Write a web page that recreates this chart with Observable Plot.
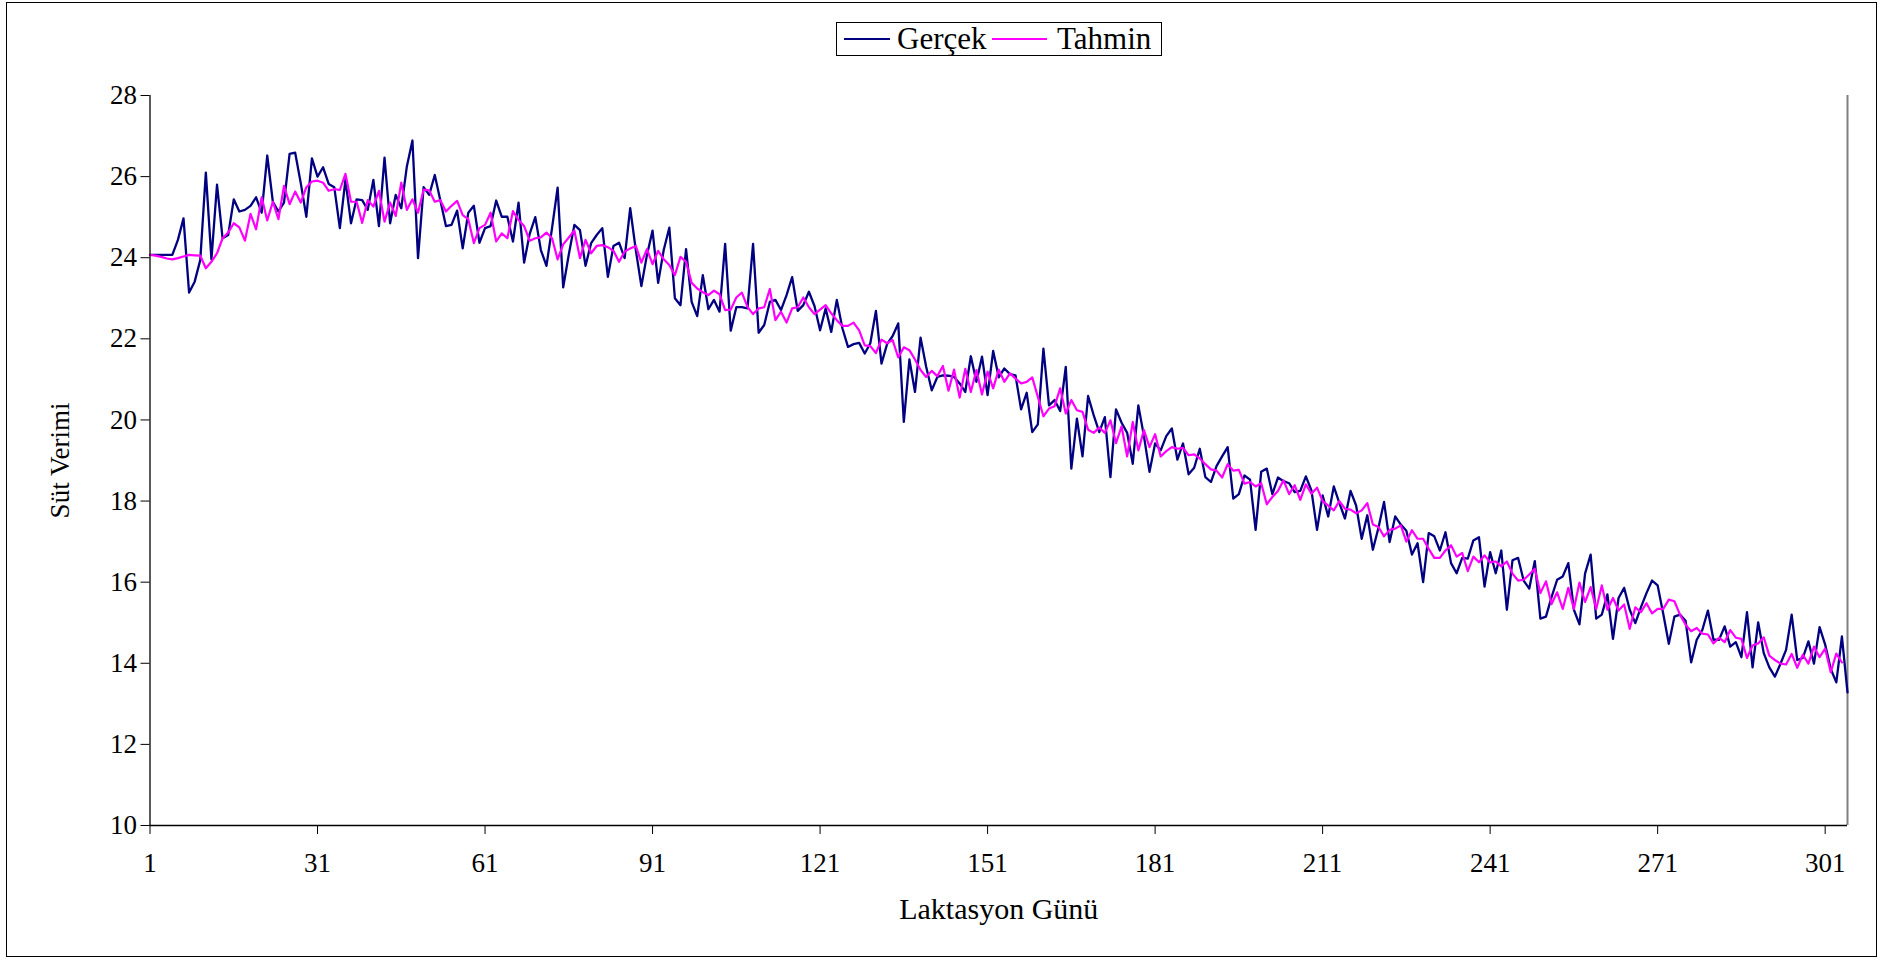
<!DOCTYPE html>
<html><head><meta charset="utf-8">
<script src="https://cdn.jsdelivr.net/npm/d3@7"></script>
<script src="https://cdn.jsdelivr.net/npm/@observablehq/plot@0.6"></script>
<style>
html,body{margin:0;padding:0;background:#fff;overflow:hidden;}
#wrap{position:relative;width:1883px;height:960px;font-family:"Liberation Serif","Times New Roman",serif;}
#frame{position:absolute;left:6px;top:2px;width:1871px;height:955px;border:1.5px solid #000;box-sizing:border-box;pointer-events:none;}
#legend{position:absolute;left:836px;top:22px;width:326px;height:34px;border:1.5px solid #000;box-sizing:border-box;font-family:"Liberation Serif","Times New Roman",serif;font-size:31px;color:#000;background:#fff;}
#legend .sw{position:absolute;top:15px;height:0;border-top:2.3px solid;}
#legend .t{position:absolute;top:-1px;line-height:33px;white-space:nowrap;}
#chart svg{display:block;}
</style>
</head><body>
<div id="wrap">
  <div id="chart"></div>
  <div id="frame"></div>
  <div id="legend">
    <span class="sw" style="border-color:#000080;left:7px;width:46px"></span><span class="t" id="lg0" style="left:60px"></span>
    <span class="sw" style="border-color:#FF00FF;left:155px;width:55px"></span><span class="t" id="lg1" style="left:220px"></span>
  </div>
</div>
<script>
// Series names / labels
const seriesNames = ["Gerçek", "Tahmin"];
const xLabel = "Laktasyon Günü";
const yLabel = "Süt Verimi";
const xTicks = [1, 31, 61, 91, 121, 151, 181, 211, 241, 271, 301];
const yTicks = [10, 12, 14, 16, 18, 20, 22, 24, 26, 28];

// Gerçek (actual), days 1..305
const gercek = [
24.07,24.07,24.07,24.07,24.07,24.44,24.97,23.14,23.41,23.94,
26.10,23.96,25.80,24.48,24.56,25.44,25.14,25.18,25.28,25.49,
25.11,26.52,25.38,25.14,25.36,26.56,26.59,25.84,25.01,26.45,
26.00,26.23,25.82,25.74,24.73,25.92,24.85,25.44,25.42,25.18,
25.92,24.78,26.47,24.85,25.55,25.22,26.25,26.89,23.99,25.74,
25.55,26.04,25.41,24.78,24.81,25.16,24.23,25.11,25.28,24.37,
24.73,24.78,25.41,25.01,25.01,24.40,25.36,23.88,24.59,25.00,
24.19,23.80,24.73,25.73,23.27,24.08,24.81,24.68,23.80,24.36,
24.56,24.73,23.53,24.29,24.37,23.99,25.22,24.19,23.30,24.07,
24.67,23.38,24.19,24.74,23.00,22.83,24.21,22.91,22.56,23.57,
22.73,22.96,22.67,24.34,22.20,22.78,22.78,22.75,24.34,22.15,
22.34,22.91,22.96,22.71,23.08,23.52,22.69,22.83,23.16,22.81,
22.21,22.75,22.17,22.96,22.26,21.80,21.87,21.90,21.64,21.89,
22.69,21.39,21.87,22.07,22.38,19.95,21.49,20.69,22.03,21.31,
20.73,21.06,21.10,21.09,21.06,20.90,20.69,21.57,20.94,21.56,
20.61,21.70,21.05,21.27,21.13,21.10,20.26,20.67,19.70,19.89,
21.76,20.36,20.49,20.22,21.31,18.80,20.03,19.10,20.59,20.12,
19.70,20.07,18.59,20.26,19.93,19.68,18.92,20.36,19.60,18.72,
19.42,19.25,19.60,19.79,19.02,19.42,18.66,18.82,19.29,18.59,
18.47,18.86,19.10,19.33,18.06,18.17,18.63,18.53,17.29,18.72,
18.80,18.17,18.58,18.49,18.44,18.22,18.25,18.61,18.26,17.29,
18.14,17.62,18.36,17.95,17.57,18.25,17.89,17.07,17.65,16.80,
17.34,17.98,16.99,17.62,17.42,17.27,16.68,16.96,16.00,17.21,
17.13,16.78,17.23,16.47,16.22,16.60,16.58,17.03,17.11,15.89,
16.74,16.22,16.78,15.32,16.54,16.60,16.04,15.84,16.52,15.10,
15.15,15.63,16.06,16.14,16.47,15.32,14.96,16.21,16.68,15.10,
15.20,15.70,14.60,15.61,15.86,15.32,14.99,15.38,15.73,16.04,
15.92,15.22,14.48,15.15,15.20,15.05,14.02,14.58,14.82,15.30,
14.58,14.58,14.91,14.41,14.52,14.15,15.26,13.90,15.01,14.25,
13.90,13.67,13.99,14.33,15.20,14.08,14.13,14.54,13.99,14.89,
14.46,13.86,13.53,14.66,13.28
];

// Tahmin (predicted), days 1..304
const tahmin = [
24.07,24.05,24.02,23.98,23.96,23.99,24.03,24.07,24.06,24.05,
23.74,23.90,24.11,24.48,24.62,24.85,24.75,24.42,25.08,24.70,
25.49,24.92,25.38,24.95,25.77,25.32,25.63,25.36,25.74,25.88,
25.90,25.85,25.65,25.69,25.67,26.07,25.38,25.38,24.86,25.42,
25.26,25.65,24.89,25.36,25.03,25.85,25.18,25.44,25.11,25.68,
25.66,25.38,25.42,25.14,25.28,25.40,25.05,24.95,24.36,24.73,
24.81,25.11,24.40,24.60,24.48,25.15,24.93,24.78,24.42,24.48,
24.50,24.62,24.48,23.96,24.33,24.50,24.67,23.99,24.44,24.11,
24.29,24.31,24.26,24.17,23.90,24.15,24.23,24.29,23.88,24.21,
23.84,24.17,23.96,23.82,23.57,24.02,23.90,23.38,23.24,23.15,
23.08,23.19,23.10,22.71,22.72,23.02,23.14,22.79,22.61,22.75,
22.78,23.23,22.46,22.67,22.40,22.75,22.78,23.02,22.78,22.61,
22.72,22.83,22.63,22.46,22.32,22.32,22.40,22.21,21.84,21.82,
21.65,21.98,21.89,21.97,21.54,21.79,21.72,21.49,21.23,21.06,
21.21,21.08,21.33,20.72,21.24,20.55,21.26,20.69,21.23,20.63,
21.19,20.78,21.24,20.94,21.15,21.02,20.90,20.94,21.05,20.57,
20.09,20.28,20.34,20.78,20.16,20.49,20.24,20.20,19.76,19.68,
19.81,19.68,19.99,19.43,19.84,19.10,19.95,19.25,19.75,19.33,
19.65,19.10,19.23,19.33,19.29,19.31,19.13,19.15,19.05,18.91,
18.78,18.75,18.58,18.91,18.75,18.77,18.43,18.47,18.36,18.44,
17.92,18.10,18.25,18.51,18.17,18.39,18.03,18.41,18.18,18.33,
18.00,17.89,17.77,18.00,17.81,17.79,17.70,17.77,17.95,17.42,
17.36,17.13,17.29,17.32,17.40,17.00,17.28,17.07,17.07,16.82,
16.60,16.60,16.78,16.91,16.63,16.72,16.27,16.63,16.49,16.66,
16.49,16.51,16.39,16.51,16.21,16.04,16.06,16.19,16.33,15.73,
16.02,15.46,15.75,15.34,15.86,15.34,15.99,15.51,15.88,15.34,
15.92,15.32,15.61,15.30,15.45,14.85,15.38,15.26,15.48,15.23,
15.34,15.34,15.57,15.53,15.20,14.95,14.79,14.87,14.73,14.71,
14.49,14.63,14.52,14.82,14.63,14.60,14.13,14.44,14.49,14.64,
14.19,14.08,13.99,13.97,14.23,13.89,14.21,13.99,14.41,14.15,
14.36,13.78,14.24,14.02
];

document.getElementById("lg0").textContent = seriesNames[0];
document.getElementById("lg1").textContent = seriesNames[1];

const rowsG = gercek.map((v, i) => ({day: i + 1, v}));
const rowsT = tahmin.map((v, i) => ({day: i + 1, v}));

const chart = Plot.plot({
  width: 1883,
  height: 960,
  marginLeft: 149.5,
  marginRight: 36,
  marginTop: 95,
  marginBottom: 135,
  style: {fontFamily: "'Liberation Serif','Times New Roman',serif", fontSize: "27px", color: "#000", background: "transparent", overflow: "visible"},
  x: {type: "linear", domain: [1, gercek.length], label: null},
  y: {type: "linear", domain: [10, 28], label: null},
  marks: [
    Plot.ruleX([gercek.length], {stroke: "#808080", strokeWidth: 2}),
    Plot.line(rowsG, {x: "day", y: "v", stroke: "#000080", strokeWidth: 2.3}),
    Plot.line(rowsT, {x: "day", y: "v", stroke: "#FF00FF", strokeWidth: 2.2}),
    Plot.ruleX([1], {stroke: "#000", strokeWidth: 1.3}),
    Plot.ruleY([10], {stroke: "#000", strokeWidth: 1.3}),
    Plot.axisY({ticks: yTicks, tickSize: 9, tickPadding: 4, tickFormat: d => String(d), stroke: "#000", fontSize: 27, label: null}),
    Plot.axisY({ticks: [], label: yLabel, labelAnchor: "center", labelOffset: 100, labelArrow: "none", fontSize: 27}),
    Plot.axisX({ticks: xTicks, tickSize: 9, tickPadding: 18, tickFormat: d => String(d), stroke: "#000", fontSize: 27, label: null}),
    Plot.axisX({ticks: [], label: xLabel, labelAnchor: "center", labelOffset: 93, labelArrow: "none", fontSize: 30})
  ]
});
document.getElementById("chart").appendChild(chart);
</script>
</body></html>
